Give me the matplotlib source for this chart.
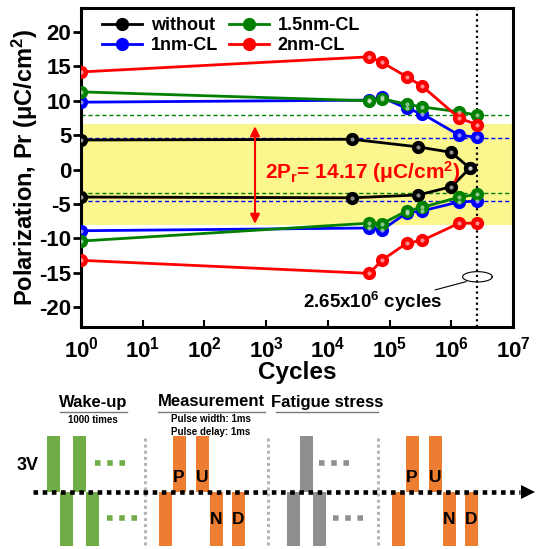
import matplotlib.pyplot as plt
import numpy as np
from matplotlib.patches import Rectangle, Polygon

plt.rcParams['font.family'] = ['Liberation Sans', 'DejaVu Sans']
plt.rcParams['font.weight'] = 'bold'
plt.rcParams['mathtext.fontset'] = 'custom'
plt.rcParams['mathtext.rm'] = 'Liberation Sans:bold'
plt.rcParams['mathtext.bf'] = 'Liberation Sans:bold'
plt.rcParams['mathtext.it'] = 'Liberation Sans:bold'
plt.rcParams['axes.unicode_minus'] = False

# NOTE: data
cyc_without = [1, 2.5e4, 2.9e5, 1.0e6, 2.0e6]
pr_without_pos = [4.3, 4.4, 3.3, 2.5, 0.2]
pr_without_neg = [-4.0, -4.1, -3.7, -2.5, 0.2]

cyc_cl = [1, 4.7e4, 7.5e4, 1.9e5, 3.4e5, 1.34e6, 2.65e6]
pr_1nm_pos = [9.8, 10.1, 10.5, 8.9, 8.1, 5.0, 4.7]
pr_1nm_neg = [-8.9, -8.5, -8.8, -6.3, -6.0, -4.7, -4.6]
pr_15nm_pos = [11.3, 10.0, 10.3, 9.5, 9.1, 8.4, 7.9]
pr_15nm_neg = [-10.4, -7.8, -7.9, -6.0, -5.5, -4.0, -3.6]
pr_2nm_pos = [14.2, 16.4, 15.6, 13.5, 12.1, 7.5, 6.5]
pr_2nm_neg = [-13.2, -15.1, -13.2, -10.7, -10.3, -7.8, -7.8]

green_ref = [7.9, -3.4]
blue_ref = [4.6, -4.6]
band = [-8.1, 6.6]
fatigue_end = 2.65e6
two_pr = 14.17

W, H = 537, 549
fig = plt.figure(figsize=(W / 100, H / 100), dpi=100)
ax = fig.add_axes([81 / W, 1 - 327 / H, 432 / W, 319 / H])

ax.axhspan(band[0], band[1], color='#fbf68e', zorder=0, lw=0)
for v in green_ref:
    ax.axhline(v, color='green', ls=(0, (3, 2)), lw=1.0, zorder=1)
for v in blue_ref:
    ax.axhline(v, color='blue', ls=(0, (3, 2)), lw=1.0, zorder=1)
ax.axvline(fatigue_end, color='black', ls=(0, (1, 1.5)), lw=1.6, zorder=1)

series = [
    ('without', 'black', cyc_without, pr_without_pos, pr_without_neg),
    ('1nm-CL', 'blue', cyc_cl, pr_1nm_pos, pr_1nm_neg),
    ('1.5nm-CL', 'green', cyc_cl, pr_15nm_pos, pr_15nm_neg),
    ('2nm-CL', 'red', cyc_cl, pr_2nm_pos, pr_2nm_neg),
]
for name, c, xs, ypos, yneg in series:
    kw = dict(color=c, lw=2.0, marker='o', ms=8.5, mfc=c, mec=c, zorder=3)
    ax.plot(xs, ypos, label=name, **kw)
    ax.plot(xs, yneg, **kw)
    ax.plot(xs, ypos, ls='none', marker='o', ms=3, mfc='white', mec='none', alpha=0.55, zorder=4)
    ax.plot(xs, yneg, ls='none', marker='o', ms=3, mfc='white', mec='none', alpha=0.55, zorder=4)

# 2Pr arrow
ax.annotate('', xy=(660, band[0] - 0.2), xytext=(660, band[1] + 0.1),
            arrowprops=dict(arrowstyle='<|-|>', color='red', lw=1.5, mutation_scale=14), zorder=5)
ax.text(950, -0.4, r'2P$_\mathregular{r}$= %.2f ($\mathregular{\mu}$C/cm$^\mathregular{2}$)' % two_pr,
        color='red', fontsize=15, fontweight='bold', va='center', ha='left', zorder=5)

# ellipse at the end point
t = np.linspace(0, 2 * np.pi, 100)
ax.plot(10 ** (np.log10(fatigue_end) + 0.24 * np.cos(t)), -15.6 + 0.75 * np.sin(t),
        color='black', lw=0.8, zorder=5)
ax.plot([5.5e5, 1.74e6], [-17.5, -16.3], color='black', lw=0.8, zorder=5)
ax.text(5.4e4, -19.3, r'2.65x10$^\mathregular{6}$ cycles', fontsize=13.5, fontweight='bold',
        ha='center', va='center', zorder=5)

ax.set_xscale('log')
ax.set_xlim(1, 1e7)
ax.set_ylim(-22.9, 23.5)
ax.set_yticks([-20, -15, -10, -5, 0, 5, 10, 15, 20])
ax.set_xticks([10 ** k for k in range(8)])
ax.set_xticklabels([r'$\mathregular{10^{%d}}$' % k for k in range(8)])
ax.tick_params(axis='y', direction='out', length=6, width=2, labelsize=16, pad=1)
ax.tick_params(axis='x', which='major', direction='in', length=5, width=1.5, labelsize=16, pad=7)
ax.tick_params(axis='x', which='minor', direction='in', length=3, width=1.2)
for s in ax.spines.values():
    s.set_linewidth(2.2)
ax.set_xlabel('Cycles', fontsize=17.5, fontweight='bold', labelpad=-1)
ax.set_ylabel(r'Polarization, Pr ($\mathregular{\mu}$C/cm$^\mathregular{2}$)', fontsize=17,
              fontweight='bold')
ax.yaxis.set_label_coords(-0.095, 0.5)

leg = ax.legend(ncol=2, loc='upper left', bbox_to_anchor=(0.02, 1.01), frameon=False,
                fontsize=13, handlelength=2.2, columnspacing=0.6, handletextpad=0.5,
                labelspacing=0.15, borderpad=0.2)
for txt in leg.get_texts():
    txt.set_fontweight('bold')

# NOTE: pulse scheme below the chart
sch = fig.add_axes([0, 0, 1, 169 / H])
sch.set_xlim(0, W)
sch.set_ylim(H, 380)
sch.axis('off')

base_y = 492
amp_up = 56
amp_dn = 54
pw = 13

wake_start = 47
wake_pulses = [1, -1, 1, -1]
meas_starts = [159, 392]
meas_slots = [0, 1.05, 2.85, 3.9, 5.6]
meas_pulses = [-1, 1, 1, -1, -1]
meas_labels = ['', 'P', 'U', 'N', 'D']
fat_start = 287
fat_pulses = [-1, 1, -1]
separators = [145, 268, 378]

green_c = '#70ad47'
orange_c = '#ed7d31'
gray_c = '#8f8f8f'


def pulse(x, pol, c):
    h = amp_up if pol > 0 else -amp_dn
    sch.add_patch(Rectangle((x, base_y), pw, -h, color=c, lw=0))


for i, p in enumerate(wake_pulses):
    pulse(wake_start + i * pw, p, green_c)
for i, p in enumerate(fat_pulses):
    pulse(fat_start + i * pw, p, gray_c)
for ms in meas_starts:
    for s, p, lab in zip(meas_slots, meas_pulses, meas_labels):
        x = ms + s * pw
        pulse(x, p, orange_c)
        if lab:
            ly = base_y - 15 if p > 0 else base_y + 28
            sch.text(x + pw / 2, ly, lab, ha='center', va='center', fontsize=12.5,
                     fontweight='bold')

# "...." continuation marks
for x0, y0, c in [(95, 463, green_c), (107, 518, green_c), (319, 463, gray_c), (333, 518, gray_c)]:
    sch.plot([x0, x0 + 35], [y0, y0], color=c, lw=4, ls=(0, (1, 1.2)), solid_capstyle='butt')

for x in separators:
    sch.plot([x, x], [438, 547], color='#b5b5b5', lw=2.2, ls=(0, (1, 1)))

sch.plot([33, 520], [base_y, base_y], color='black', lw=3.3, ls=(0, (1, 1)))
sch.add_patch(Polygon([[521, base_y - 7], [535, base_y], [521, base_y + 7]], closed=True,
                      color='black', lw=0))

sch.text(28, 466, '3V', ha='center', va='center', fontsize=13, fontweight='bold')
for label, xc, x0, x1 in [('Wake-up', 93, 60, 127), ('Measurement', 211, 158, 265),
                          ('Fatigue stress', 327, 276, 378)]:
    sch.text(xc, 402, label, ha='center', va='center', fontsize=12, fontweight='bold')
    sch.plot([x0, x1], [412, 412], color='#777777', lw=1)
sch.text(93, 420, '1000 times', ha='center', va='center', fontsize=7, fontweight='bold')
sch.text(211, 419, 'Pulse width: 1ms', ha='center', va='center', fontsize=7, fontweight='bold')
sch.text(211, 432, 'Pulse delay: 1ms', ha='center', va='center', fontsize=7, fontweight='bold')

plt.savefig('out.png', dpi=100)
